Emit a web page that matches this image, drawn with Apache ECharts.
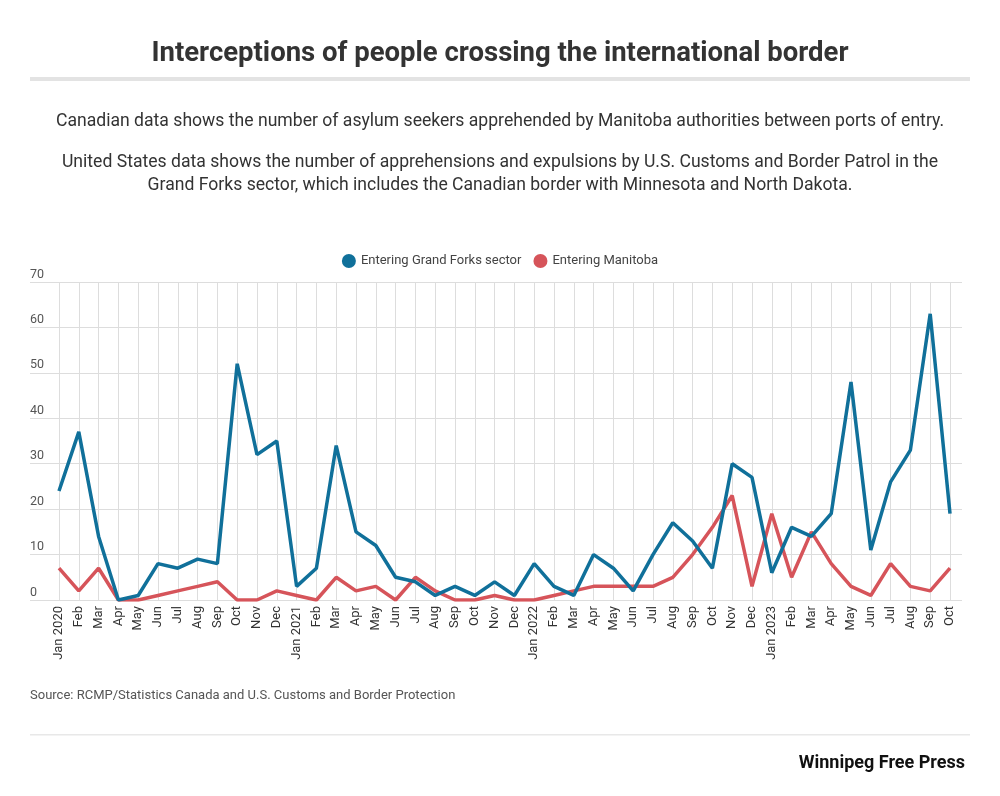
<!DOCTYPE html>
<html>
<head>
<meta charset="utf-8">
<script src="https://cdn.jsdelivr.net/npm/echarts@6/dist/echarts.min.js"></script>
<style>
  html, body { margin: 0; padding: 0; background: #fff; }
  #chart { width: 1000px; height: 796px; }
</style>
</head>
<body>
<div id="chart"></div>
<script>
// months Jan 2020 - Oct 2023
var months = [
  'Jan 2020', 'Feb', 'Mar', 'Apr', 'May', 'Jun', 'Jul', 'Aug', 'Sep', 'Oct', 'Nov', 'Dec',
  'Jan 2021', 'Feb', 'Mar', 'Apr', 'May', 'Jun', 'Jul', 'Aug', 'Sep', 'Oct', 'Nov', 'Dec',
  'Jan 2022', 'Feb', 'Mar', 'Apr', 'May', 'Jun', 'Jul', 'Aug', 'Sep', 'Oct', 'Nov', 'Dec',
  'Jan 2023', 'Feb', 'Mar', 'Apr', 'May', 'Jun', 'Jul', 'Aug', 'Sep', 'Oct'
];

var grandForks = [
  24, 37, 14, 0, 1, 8, 7, 9, 8, 52, 32, 35,
  3, 7, 34, 15, 12, 5, 4, 1, 3, 1, 4, 1,
  8, 3, 1, 10, 7, 2, 10, 17, 13, 7, 30, 27,
  6, 16, 14, 19, 48, 11, 26, 33, 63, 19
];

var manitoba = [
  7, 2, 7, 0, 0, 1, 2, 3, 4, 0, 0, 2,
  1, 0, 5, 2, 3, 0, 5, 2, 0, 0, 1, 0,
  0, 1, 2, 3, 3, 3, 3, 5, 10, 16, 23, 3,
  19, 5, 15, 8, 3, 1, 8, 3, 2, 7
];

var yTicks = [0, 10, 20, 30, 40, 50, 60, 70];

var chart = echarts.init(document.getElementById('chart'));
var font = 'Roboto, "Noto Sans", sans-serif';

var option = {
  backgroundColor: '#fff',
  textStyle: { fontFamily: font },
  title: {
    text: 'Interceptions of people crossing the international border',
    left: 'center',
    top: 35,
    textStyle: { fontFamily: font, fontSize: 27.5, fontWeight: 'bold', color: '#333' }
  },
  legend: {
    top: 249,
    left: 'center',
    icon: 'circle',
    itemWidth: 14,
    itemHeight: 14,
    itemGap: 12,
    textStyle: { fontSize: 13, color: '#444' },
    data: ['Entering Grand Forks sector', 'Entering Manitoba']
  },
  graphic: [
    { type: 'rect', shape: { x: 30, y: 77, width: 940, height: 4 }, style: { fill: '#e3e3e3' } },
    { type: 'text', x: 500, y: 122, style: { text: 'Canadian data shows the number of asylum seekers apprehended by Manitoba authorities between ports of entry.', font: '17.6px ' + font, fill: '#333', align: 'center', verticalAlign: 'middle' } },
    { type: 'text', x: 500, y: 163, style: { text: 'United States data shows the number of apprehensions and expulsions by U.S. Customs and Border Patrol in the', font: '17.6px ' + font, fill: '#333', align: 'center', verticalAlign: 'middle' } },
    { type: 'text', x: 500, y: 186, style: { text: 'Grand Forks sector, which includes the Canadian border with Minnesota and North Dakota.', font: '17.6px ' + font, fill: '#333', align: 'center', verticalAlign: 'middle' } },
    { type: 'text', x: 30, y: 696, style: { text: 'Source: RCMP/Statistics Canada and U.S. Customs and Border Protection', font: '13px ' + font, fill: '#555', verticalAlign: 'middle' } },
    { type: 'rect', shape: { x: 30, y: 734, width: 940, height: 1.5 }, style: { fill: '#e8e8e8' } },
    { type: 'text', x: 965, y: 763, style: { text: 'Winnipeg Free Press', font: 'bold 18px ' + font, fill: '#111', align: 'right', verticalAlign: 'middle' } }
  ],
  grid: [
    { left: 59, right: 50, top: 282, bottom: 196 },
    { left: 30, right: 38, top: 282, bottom: 196 }
  ],
  xAxis: [
    {
      type: 'category',
      gridIndex: 0,
      data: months,
      boundaryGap: false,
      axisLine: { show: false },
      axisTick: { show: false },
      axisLabel: { rotate: 90, interval: 0, fontSize: 13, color: '#333', margin: 6 },
      splitLine: { show: true, interval: 0, lineStyle: { color: '#ddd', width: 1 } }
    },
    {
      type: 'category',
      gridIndex: 1,
      data: months,
      show: false
    }
  ],
  yAxis: [
    {
      type: 'value',
      gridIndex: 0,
      min: 0,
      max: 70,
      interval: 10,
      axisLabel: { show: false },
      axisLine: { show: false },
      axisTick: { show: false },
      splitLine: { show: false }
    },
    {
      type: 'value',
      gridIndex: 1,
      min: yTicks[0],
      max: yTicks[yTicks.length - 1],
      interval: 10,
      axisLine: { show: false },
      axisTick: { show: false },
      axisLabel: { inside: true, verticalAlign: 'bottom', margin: 0, fontSize: 12.5, color: '#555', padding: [0, 0, 1, 0] },
      splitLine: { lineStyle: { color: '#ddd', width: 1 } }
    }
  ],
  series: [
    {
      name: 'Entering Grand Forks sector',
      type: 'line',
      xAxisIndex: 0,
      yAxisIndex: 0,
      data: grandForks,
      symbol: 'none',
      color: '#10709a',
      lineStyle: { width: 3.5, color: '#10709a' },
      z: 3
    },
    {
      name: 'Entering Manitoba',
      type: 'line',
      xAxisIndex: 0,
      yAxisIndex: 0,
      data: manitoba,
      symbol: 'none',
      color: '#d6545a',
      lineStyle: { width: 3.5, color: '#d6545a' },
      z: 2
    }
  ]
};

chart.setOption(option);
</script>
</body>
</html>
